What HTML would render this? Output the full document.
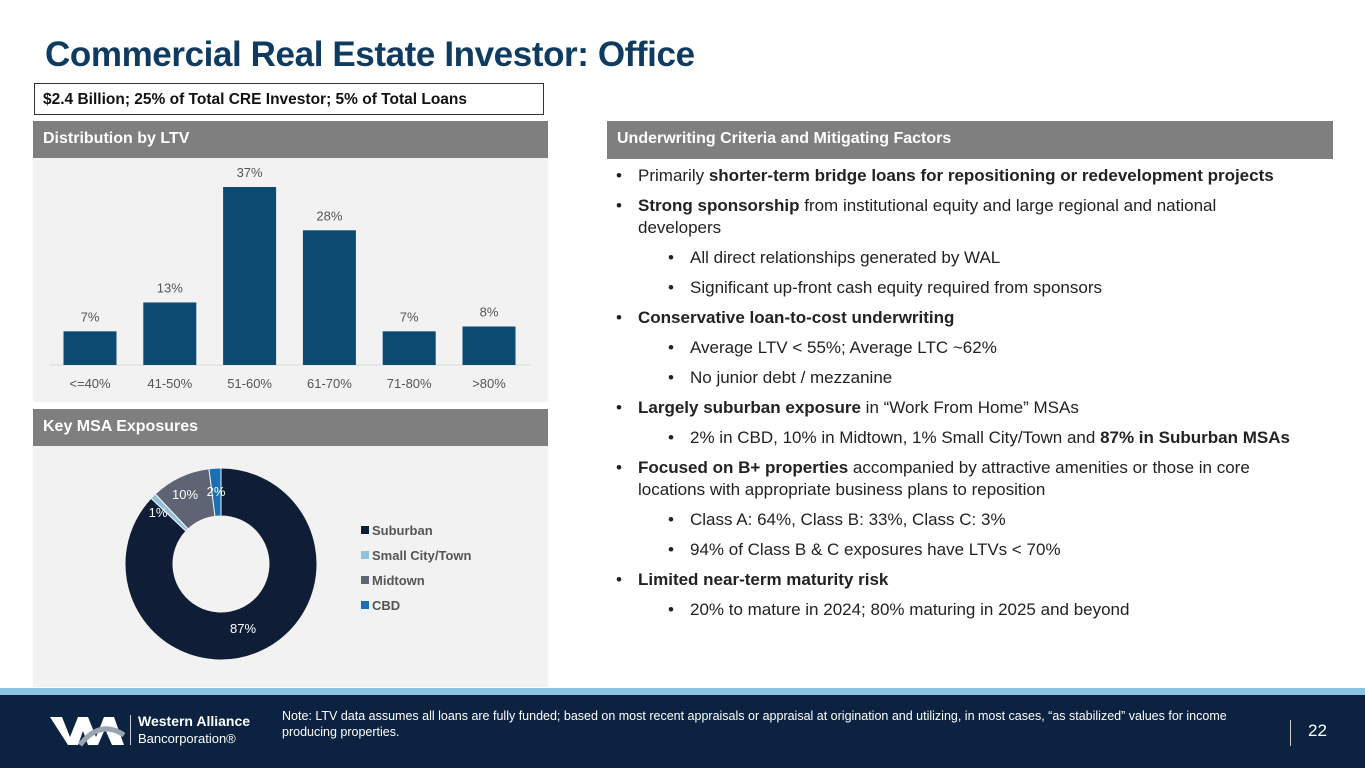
<!DOCTYPE html>
<html><head><meta charset="utf-8"><style>
*{margin:0;padding:0;box-sizing:border-box}
body{width:1365px;height:768px;position:relative;background:#fff;font-family:"Liberation Sans",sans-serif;overflow:hidden}
.abs{position:absolute}
.title{left:45px;top:35px;font-size:35px;font-weight:bold;color:#0e3b5f;letter-spacing:-0.4px}
.box{left:34px;top:83px;width:510px;height:32px;border:1px solid #333;font-size:15.5px;font-weight:bold;color:#111;padding:7px 0 0 8px}
.hdr{background:#7f7f7f;color:#fff;font-size:16px;font-weight:bold;padding-left:10px;line-height:36px}
.panel{background:#f2f2f2}
ul{list-style:none}
li{font-size:17px;color:#222;line-height:22px;position:relative}
li.b1{padding-left:22px;margin-left:616px}
li.b2{padding-left:22px;margin-left:668px}
li:before{content:"•";position:absolute;left:0}
.foot{left:0;top:695px;width:1365px;height:73px;background:#0b2340}
</style></head><body>
<div class="abs title">Commercial Real Estate Investor: Office</div>
<div class="abs box">$2.4 Billion; 25% of Total CRE Investor; 5% of Total Loans</div>

<div class="abs hdr" style="left:33px;top:121px;width:515px;height:37px">Distribution by LTV</div>
<div class="abs panel" style="left:33px;top:158px;width:515px;height:244px"></div>
<svg class="abs" style="left:0;top:0" width="560" height="410" id="bar"></svg>

<div class="abs hdr" style="left:33px;top:409px;width:515px;height:37px">Key MSA Exposures</div>
<div class="abs panel" style="left:33px;top:446px;width:515px;height:241px"></div>
<svg class="abs" style="left:0;top:440px" width="560" height="250" id="pie"></svg>

<div class="abs hdr" style="left:607px;top:121px;width:726px;height:38px">Underwriting Criteria and Mitigating Factors</div>
<ul class="abs" style="left:0;top:165px;width:1300px">
<li class="b1" style="margin-bottom:8px">Primarily <b>shorter-term bridge loans for repositioning or redevelopment projects</b></li>
<li class="b1" style="margin-bottom:8px;width:660px"><b>Strong sponsorship</b> from institutional equity and large regional and national developers</li>
<li class="b2" style="margin-bottom:8px">All direct relationships generated by WAL</li>
<li class="b2" style="margin-bottom:8px">Significant up-front cash equity required from sponsors</li>
<li class="b1" style="margin-bottom:8px"><b>Conservative loan-to-cost underwriting</b></li>
<li class="b2" style="margin-bottom:8px">Average LTV &lt; 55%; Average LTC ~62%</li>
<li class="b2" style="margin-bottom:8px">No junior debt / mezzanine</li>
<li class="b1" style="margin-bottom:8px"><b>Largely suburban exposure</b> in “Work From Home” MSAs</li>
<li class="b2" style="margin-bottom:8px">2% in CBD, 10% in Midtown, 1% Small City/Town and <b>87% in Suburban MSAs</b></li>
<li class="b1" style="margin-bottom:8px;width:700px"><b>Focused on B+ properties</b> accompanied by attractive amenities or those in core locations with appropriate business plans to reposition</li>
<li class="b2" style="margin-bottom:8px">Class A: 64%, Class B: 33%, Class C: 3%</li>
<li class="b2" style="margin-bottom:8px">94% of Class B &amp; C exposures have LTVs &lt; 70%</li>
<li class="b1" style="margin-bottom:8px"><b>Limited near-term maturity risk</b></li>
<li class="b2">20% to mature in 2024; 80% maturing in 2025 and beyond</li>
</ul>

<div class="abs" style="left:0;top:688px;width:1365px;height:7px;background:#8cc3e3"></div>
<div class="abs foot">
<svg class="abs" style="left:50px;top:20px" width="75" height="32"><polygon points="0,2 12,2 20,22 28,2 38,2 46,22 54,2 64,2 74,30 62,30 55,14 48,30 38,30 33,16 28,30 18,30" fill="#fff"/><path d="M30,30 Q50,4 74,20" stroke="#9aa4b0" stroke-width="5" fill="none"/></svg>
<div class="abs" style="left:130px;top:20px;width:1px;height:30px;background:#ccc"></div>
<div class="abs" style="left:138px;top:18px;color:#fff;font-size:14px;font-weight:bold">Western Alliance</div>
<div class="abs" style="left:138px;top:36px;color:#fff;font-size:13px">Bancorporation®</div>
<div class="abs" style="left:282px;top:13px;width:990px;color:#fff;font-size:12.5px;line-height:16px">Note: LTV data assumes all loans are fully funded; based on most recent appraisals or appraisal at origination and utilizing, in most cases, “as stabilized” values for income producing properties.</div>
<div class="abs" style="left:1290px;top:25px;width:1px;height:26px;background:#ccc"></div>
<div class="abs" style="left:1308px;top:26px;color:#fff;font-size:17px">22</div>
</div>

<script>
const cats=["<=40%","41-50%","51-60%","61-70%","71-80%",">80%"];
const vals=[7,13,37,28,7,8];
const labels=["7%","13%","37%","28%","7%","8%"];
const NS="http://www.w3.org/2000/svg";
function mk(p,t,a){const e=document.createElementNS(NS,t);for(const k in a)e.setAttribute(k,a[k]);p.appendChild(e);return e;}
const bar=document.getElementById('bar');
const base=365,scale=178/37,x0=90,step=79.8,bw=53;
const y=v=>base-v*scale;
mk(bar,'line',{x1:50,x2:530,y1:base,y2:base,stroke:'#d9d9d9','stroke-width':1});
cats.forEach((c,i)=>{
 const cx=x0+i*step;
 const r=mk(bar,'rect',{x:cx-bw/2,y:y(vals[i]),width:bw,height:base-y(vals[i]),fill:'#0d4a72'});
 
 
 const t=mk(bar,'text',{x:cx,y:y(vals[i])-10,'text-anchor':'middle','font-size':13,fill:'#555','font-family':'Liberation Sans'});t.textContent=labels[i];
 
 
 const l=mk(bar,'text',{x:cx,y:388,'text-anchor':'middle','font-size':13,fill:'#555','font-family':'Liberation Sans'});l.textContent=c;
 
 
});

const sliceNames=["Suburban","Small City/Town","Midtown","CBD"];
const sliceVals=[87,1,10,2];
const sliceColors=["#101d36","#8fc3dd","#5e6474","#1a6fb5"];
const pie=document.getElementById('pie');
const cx=221,cy=124,R=96,r0=48;
let a0=0;const tot=sliceVals.reduce((s,v)=>s+v,0);
const pt=(a,rad)=>[cx+rad*Math.sin(a),cy-rad*Math.cos(a)];
const lblPos=[[243,193],[158,77],[185,59],[216,56]];
sliceVals.forEach((v,i)=>{
 const a1=a0+v/tot*2*Math.PI;const large=(a1-a0)>Math.PI?1:0;
 const [x1,y1]=pt(a0,R),[x2,y2]=pt(a1,R),[x3,y3]=pt(a1,r0),[x4,y4]=pt(a0,r0);
 const p=mk(pie,'path',{d:`M${x1},${y1}A${R},${R} 0 ${large} 1 ${x2},${y2}L${x3},${y3}A${r0},${r0} 0 ${large} 0 ${x4},${y4}Z`,fill:sliceColors[i],stroke:'#f2f2f2','stroke-width':1});
 
 
 const t=mk(pie,'text',{x:lblPos[i][0],y:lblPos[i][1],'text-anchor':'middle','font-size':13,fill:'#fff','font-family':'Liberation Sans'});t.textContent=v+'%';
 
 
 const ly=95+i*25;
 const sq=mk(pie,'rect',{x:361,y:ly-9,width:8,height:8,fill:sliceColors[i]});
 
 
 const lt=mk(pie,'text',{x:372,y:ly,'font-size':13,fill:'#555','font-weight':'bold','font-family':'Liberation Sans'});lt.textContent=sliceNames[i];
 
 
 a0=a1;
});
</script>
</body></html>
